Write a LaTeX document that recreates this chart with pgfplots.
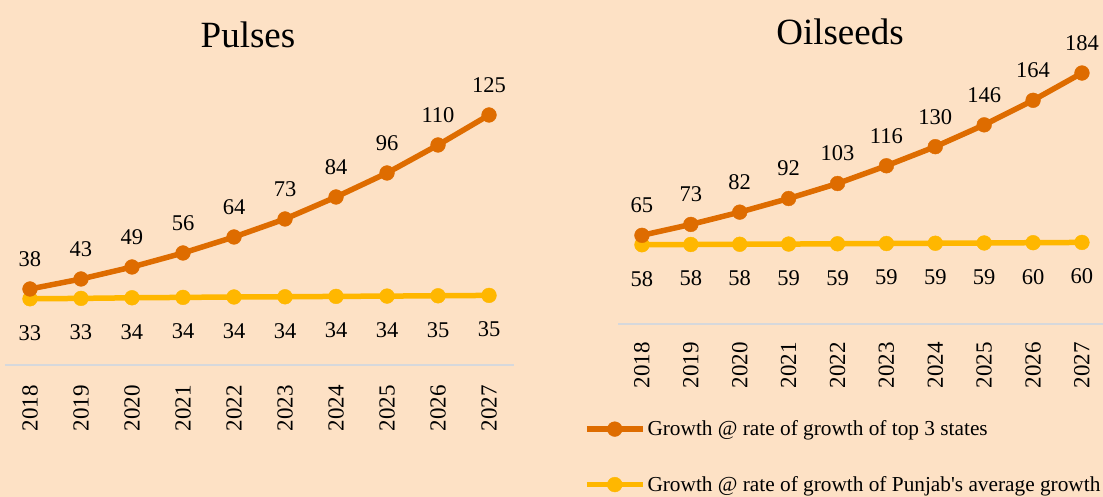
\documentclass[border=0pt]{standalone}
\usepackage{fontspec}
\setmainfont{Liberation Serif}[Ligatures=TeXOff]
\usepackage{pgfplots}
\pgfplotsset{compat=1.18}
\usepackage{pgfplotstable}
\definecolor{bgc}{RGB}{253,225,197}
\definecolor{orng}{RGB}{222,108,0}
\definecolor{ylw}{RGB}{255,183,0}
\definecolor{axc}{RGB}{214,216,220}

\pgfplotstableread{
x y lab
2018 38 38
2019 43 43
2020 49 49
2021 56 56
2022 64 64
2023 73 73
2024 84 84
2025 96 96
2026 110 110
2027 125 125
}\pulsetop
\pgfplotstableread{
x y lab
2018 33.1 33
2019 33.3 33
2020 33.6 34
2021 33.8 34
2022 34.0 34
2023 34.1 34
2024 34.3 34
2025 34.45 34
2026 34.6 35
2027 34.8 35
}\pulsepun
\pgfplotstableread{
x y lab
2018 65 65
2019 73 73
2020 82 82
2021 92 92
2022 103 103
2023 116 116
2024 130 130
2025 146 146
2026 164 164
2027 184 184
}\oiltop
\pgfplotstableread{
x y lab
2018 58.1 58
2019 58.3 58
2020 58.45 58
2021 58.6 59
2022 58.8 59
2023 59.0 59
2024 59.2 59
2025 59.4 59
2026 59.6 60
2027 59.8 60
}\oilpun

\pgfplotsset{
  mychart/.style={
    scale only axis,
    axis x line*=bottom,
    axis y line=none,
    x axis line style={draw=axc, line width=2pt},
    ymin=0,
    xtick={2018,...,2027},
    xticklabels={2018,2019,2020,2021,2022,2023,2024,2025,2026,2027},
    major tick length=0pt,
    xticklabel style={rotate=90, anchor=east, inner sep=0pt, font=\fontsize{23}{26}\selectfont},
    xticklabel shift=18pt,
    /pgf/number format/assume math mode=true,
    clip=false,
  },
  toplot/.style={color=orng, line width=5.5pt, mark=*, mark size=7.4pt, mark options={line width=0.4pt, fill=orng},
    nodes near coords, point meta=explicit symbolic,
    every node near coord/.append style={anchor=center, yshift=30pt, inner sep=0pt, text=black, font=\fontsize{22.5}{26}\selectfont}},
  punplot/.style={color=ylw, line width=5.5pt, mark=*, mark size=7.4pt, mark options={line width=0.4pt, fill=ylw},
    nodes near coords, point meta=explicit symbolic,
    every node near coord/.append style={anchor=center, yshift=-34pt, inner sep=0pt, text=black, font=\fontsize{22.5}{26}\selectfont}},
}

\begin{document}
\begin{tikzpicture}
\fill[bgc] (0pt,0pt) rectangle (1103pt,497pt);

\begin{axis}[mychart, at={(5pt,132pt)}, anchor=south west,
  width=509pt, height=280pt, xmin=2017.51, xmax=2027.49, ymax=140,
  xticklabel shift=20pt]
\addplot[punplot] table[x=x, y=y, meta=lab] {\pulsepun};
\addplot[toplot] table[x=x, y=y, meta=lab] {\pulsetop};
\end{axis}

\begin{axis}[mychart, at={(618pt,173pt)}, anchor=south west,
  width=485pt, height=272.8pt, xmin=2017.51, xmax=2027.43, ymax=200,
  legend style={at={(axis description cs:-0.0705,-0.487)}, anchor=west,
    draw=none, fill=none, inner sep=0pt, row sep=39pt,
    font=\fontsize{21.3}{24}\selectfont,
    nodes={inner sep=0pt},
    /tikz/every odd column/.append style={column sep=2pt}},
  legend cell align=left,
  legend image code/.code={\draw[mark repeat=2,mark phase=2,#1] plot coordinates {(0pt,0pt) (28pt,0pt) (56pt,0pt)};}]
\addplot[punplot, forget plot] table[x=x, y=y, meta=lab] {\oilpun};
\addplot[toplot] table[x=x, y=y, meta=lab] {\oiltop};
\addlegendentry{Growth @ rate of growth of top 3 states}
\addlegendimage{color=ylw, line width=5.5pt, mark=*, mark size=7.4pt, mark options={line width=0.4pt, fill=ylw}}
\addlegendentry{Growth @ rate of growth of Punjab's average growth}
\end{axis}

\node[font=\fontsize{37}{40}\selectfont] at (248pt,462pt) {Pulses};
\node[font=\fontsize{37}{40}\selectfont] at (840pt,465pt) {Oilseeds};

\pgfresetboundingbox
\useasboundingbox (0pt,0pt) rectangle (1103pt,497pt);
\end{tikzpicture}
\end{document}
